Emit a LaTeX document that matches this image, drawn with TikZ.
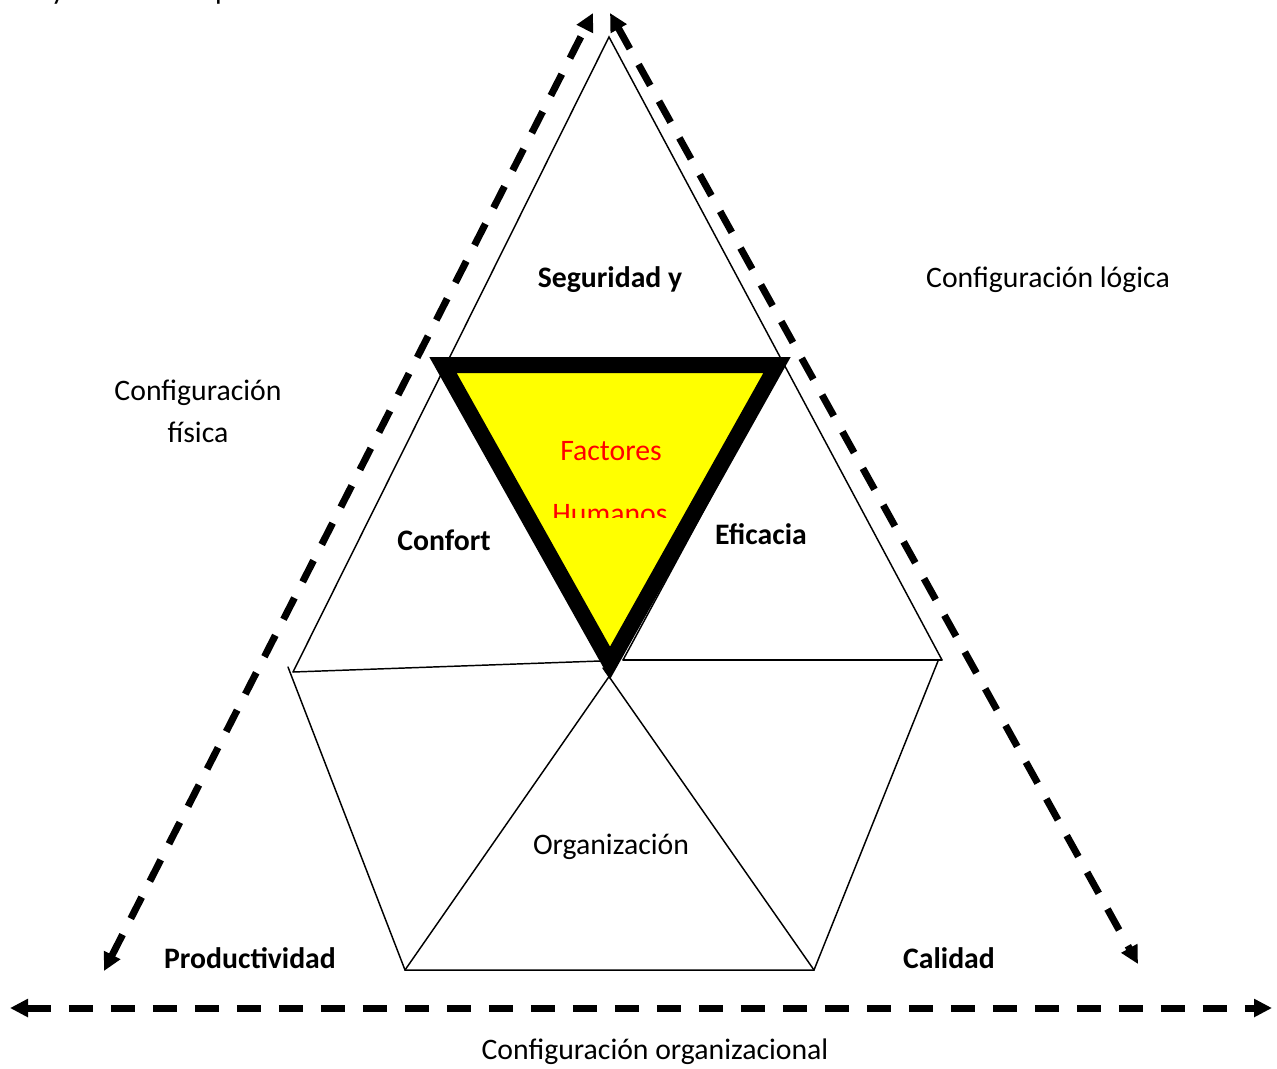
\documentclass[tikz,border=0pt]{standalone}
\usepackage{fontspec}
\setmainfont{Carlito}
\usetikzlibrary{arrows.meta}
\begin{document}
\begin{tikzpicture}[x=0.75pt,y=-0.75pt,
  thinline/.style={line width=1.1pt, line cap=round},
  axis/.style={line width=5.25pt, dash pattern=on 18pt off 13.5pt,
    {Triangle[length=13.5pt,width=13pt]}-{Triangle[length=13.5pt,width=13pt]}},
  lbl/.style={font=\fontsize{22.3}{31.5}\selectfont, inner sep=0pt, align=center},
  blbl/.style={font=\fontsize{22.3}{31.5}\selectfont\bfseries, inner sep=0pt},
  hf/.style={font=\fontsize{22.3}{31.5}\selectfont, text=red, inner sep=0pt},
]
\path[use as bounding box] (0,0) rectangle (1277,1068);

% key points of the triangle and the hexagon
\coordinate (apex) at (609,37);
\coordinate (lout) at (293,672);
\coordinate (rout) at (942,660);
\coordinate (lmid) at (600,661);
\coordinate (rmid) at (623,660);
\coordinate (rin)  at (784,362);
\coordinate (lhex) at (288,667);
\coordinate (rhex) at (938,661);
\coordinate (bl)   at (405,970);
\coordinate (br)   at (814,970);
\coordinate (xl)   at (603,668);
\coordinate (xr)   at (615,668);

% thin outlines
\draw[thinline] (lout) -- (apex) -- (rout);
\draw[thinline] (lout) -- (lmid);
\draw[thinline] (rmid) -- (rout);
\draw[thinline] (rin) -- (rmid);
\draw[thinline] (lhex) -- (bl) -- (br) -- (rhex);
\draw[thinline] (bl) -- (xr);
\draw[thinline] (br) -- (xl);

% central inverted triangle
\coordinate (htl) at (443,365);
\coordinate (htr) at (777,365);
\coordinate (hb)  at (610,663);
\draw[line width=12pt, line join=miter, miter limit=10, fill={rgb,255:red,255;green,255;blue,0}]
  (htl) -- (htr) -- (hb) -- cycle;

% dashed axes
\coordinate (al1) at (104,971);
\coordinate (al2) at (593,13);
\coordinate (ar1) at (610,13);
\coordinate (ar2) at (1138,964);
\coordinate (ab1) at (10,1008);
\coordinate (ab2) at (1272,1008);
\draw[axis] (al1) -- (al2);
\draw[axis] (ar1) -- (ar2);
\draw[axis] (ab1) -- (ab2);

% labels
\node[blbl] (seg) at (610,280) {Seguridad y};
\node[lbl] (clog) at (1048,280) {Configuración lógica};
\node[lbl] (cfis) at (198,411) {Configuración\\física};
\node[hf] (fact) at (611,451) {Factores};
\begin{scope}
  \clip (520,480) rectangle (700,517);
  \node[hf] (hum) at (610,514) {Humanos};
\end{scope}
\node[blbl] (conf) at (444,540) {Confort};
\node[blbl] (efic) at (761,534) {Eficacia};
\node[lbl] (org) at (611,847) {Organización};
\node[blbl] (prod) at (250,958) {Productividad};
\node[blbl] (cal) at (949,958) {Calidad};
\node[lbl] (corg) at (655,1052) {Configuración organizacional};

% text running off the top edge
\begin{scope}
  \clip (0,0) rectangle (300,20);
  \node[lbl, anchor=base] (ty) at (58,-1) {y};
  \node[lbl, anchor=base] (tp) at (223,-1) {p};
\end{scope}
\end{tikzpicture}
\end{document}
